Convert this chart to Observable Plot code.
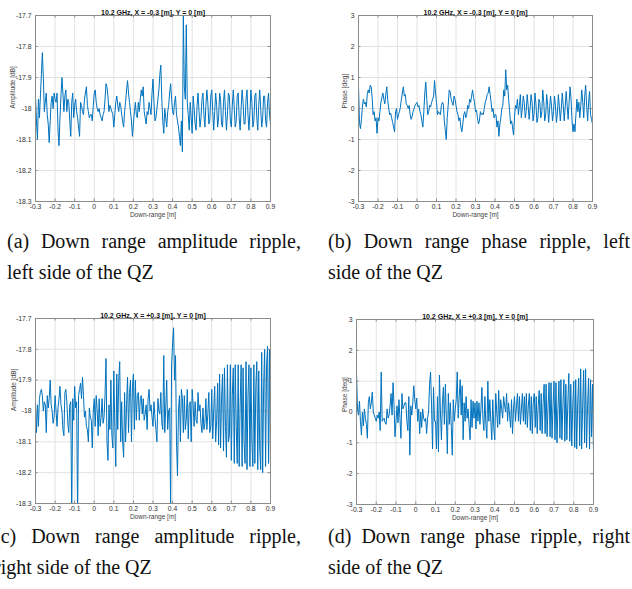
<!DOCTYPE html>
<html>
<head>
<meta charset="utf-8">
<script src="https://cdn.jsdelivr.net/npm/d3@7"></script>
<script src="https://cdn.jsdelivr.net/npm/@observablehq/plot@0.6"></script>
<style>
  html, body { margin: 0; padding: 0; background: #fff; }
  #page { position: relative; width: 632px; height: 589px; overflow: hidden; background: #fff; }
  .panel { position: absolute; }
  .panel svg { overflow: visible; }
  .cap { position: absolute; font-family: "Liberation Serif", "Times New Roman", serif; font-size: 20px;
         line-height: 31.5px; text-align: justify; color: #111; }
</style>
</head>
<body>
<div id="page">
  <div class="panel" id="pa" style="left:0px;top:0px"></div>
  <div class="panel" id="pb" style="left:316px;top:0px"></div>
  <div class="panel" id="pc" style="left:0px;top:300px"></div>
  <div class="panel" id="pd" style="left:316px;top:300px"></div>
  <div class="cap" style="left:7px;top:225.5px;width:294px">(a) Down range amplitude ripple, left side of the QZ</div>
  <div class="cap" style="left:328px;top:225.5px;width:302px">(b) Down range phase ripple, left side of the QZ</div>
  <div class="cap" style="left:-6px;top:520.5px;width:307px">(c) Down range amplitude ripple, right side of the QZ</div>
  <div class="cap" style="left:328px;top:520.5px;width:302px">(d) Down range phase ripple, right side of the QZ</div>
</div>
<script>
// ---- tick values and labels ----
const xTicks = [-0.3, -0.2, -0.1, 0, 0.1, 0.2, 0.3, 0.4, 0.5, 0.6, 0.7, 0.8, 0.9];
const xTickLabels = ["-0.3", "-0.2", "-0.1", "0", "0.1", "0.2", "0.3", "0.4", "0.5", "0.6", "0.7", "0.8", "0.9"];
const ampTicks = [-18.3, -18.2, -18.1, -18, -17.9, -17.8, -17.7];
const ampTickLabels = ["-18.3", "-18.2", "-18.1", "-18", "-17.9", "-17.8", "-17.7"];
const phaseTicks = [-3, -2, -1, 0, 1, 2, 3];
const phaseTickLabels = ["-3", "-2", "-1", "0", "1", "2", "3"];

// ---- texts ----
const titleLeft = "10.2 GHz, X = -0.3 [m], Y = 0 [m]";
const titleRight = "10.2 GHz, X = +0.3 [m], Y = 0 [m]";
const xLabel = "Down-range [m]";
const ampLabel = "Amplitude [dB]";
const phaseLabel = "Phase [deg]";

// ---- sampling positions along down-range (m), 5 mm step from -0.3 to 0.9 ----
const downRange = d3.range(241).map(i => Math.round((-0.3 + i * 0.005) * 1000) / 1000);

// ---- (a) amplitude, left side of QZ (dB) ----
const ampLeft = [
  -17.96,-18.04,-18.10,-17.97,-18.03,-17.96,-17.89,-17.82,-17.90,-18.01,
  -17.98,-17.95,-18.02,-18.05,-18.11,-18.04,-17.98,-17.96,-18.00,-17.95,
  -17.97,-17.98,-17.95,-18.07,-18.12,-18.03,-17.96,-17.90,-17.95,-18.01,
  -17.96,-17.94,-18.01,-17.97,-17.98,-18.04,-18.09,-17.98,-17.95,-18.03,
  -17.99,-17.97,-18.01,-18.03,-18.06,-18.09,-17.98,-17.99,-18.01,-18.02,
  -17.97,-17.95,-17.93,-17.99,-18.01,-18.03,-18.02,-18.02,-18.04,-17.99,
  -17.95,-17.94,-17.98,-18.00,-18.01,-18.00,-18.02,-18.03,-18.04,-18.02,
  -18.01,-17.97,-17.92,-17.93,-17.96,-18.01,-17.99,-18.00,-18.01,-18.02,
  -18.06,-18.02,-17.98,-17.96,-17.99,-18.01,-17.98,-17.99,-18.02,-18.04,
  -18.06,-18.01,-17.98,-17.94,-17.91,-17.95,-17.98,-18.01,-18.04,-18.09,
  -18.05,-18.01,-17.98,-18.02,-18.03,-17.98,-18.01,-17.97,-17.94,-17.96,
  -17.93,-18.01,-18.03,-18.05,-18.01,-18.02,-17.98,-18.00,-18.02,-17.95,
  -17.905,-17.98,-18.04,-18.03,-18.00,-17.97,-17.94,-17.89,-17.86,-17.97,
  -18.04,-18.08,-18.00,-18.03,-18.06,-18.01,-17.99,-17.95,-17.92,-17.97,
  -18.01,-18.02,-17.98,-17.96,-18.02,-18.04,-18.06,-18.09,-18.12,-18.04,
  -18.14,-17.70,-17.93,-17.97,-17.73,-17.98,-18.02,-18.07,-17.98,-18.03,
  -18.08,-17.96,-18.00,-18.05,-18.07,-17.99,-17.95,-18.01,-18.06,-18.03,
  -17.97,-17.95,-18.02,-18.06,-17.99,-17.94,-17.98,-18.05,-18.04,-17.96,
  -17.94,-18.01,-18.07,-18.01,-17.95,-17.99,-18.06,-18.03,-17.95,-17.97,
  -18.05,-18.06,-17.98,-17.94,-18.01,-18.07,-18.02,-17.95,-17.96,-18.04,
  -18.06,-17.99,-17.94,-18.00,-18.06,-18.04,-17.96,-17.95,-18.03,-18.07,
  -18.00,-17.94,-17.98,-18.05,-18.05,-17.97,-17.94,-18.02,-18.07,-18.01,
  -17.94,-17.98,-18.06,-18.04,-17.96,-17.95,-18.03,-18.07,-17.99,-17.94,
  -18.00,-18.06,-18.03,-17.96,-17.96,-18.04,-18.06,-17.98,-17.95,-18.02,
  -18.05
];

// ---- (b) phase, left side of QZ (deg) ----
const phaseLeft = [
  0.75,-0.45,-0.65,-0.35,0.05,0.3,0.15,0.2,0.05,0.45,
  0.6,0.5,0.75,0.7,0.35,-0.2,-0.1,-0.4,-0.3,-0.8,
  -0.3,-0.4,-0.1,0.2,0.35,0.5,0.3,0.15,0.45,0.7,
  0.25,0.0,-0.2,-0.15,-0.3,-0.45,-0.6,-0.75,-0.1,0.0,
  -0.35,-0.2,-0.1,0.05,0.3,0.5,0.7,0.4,0.45,0.15,
  0.1,0.0,0.1,-0.2,-0.35,-0.25,-0.1,0.0,0.1,0.15,
  0.2,0.05,0.1,-0.1,-0.2,-0.4,-0.6,-0.1,0.5,0.85,
  0.3,-0.2,-0.1,0.1,0.05,0.2,0.3,0.4,0.9,0.5,
  0.2,-0.2,-0.1,-0.15,-0.2,0.1,0.2,0.15,-0.4,-0.7,
  -1.0,-0.3,0.1,0.6,0.55,0.3,0.2,0.1,0.4,0.3,
  0.1,-0.1,-0.2,-0.4,-0.3,-0.6,-0.75,-0.5,-0.2,-0.1,
  -0.3,-0.2,0.1,0.0,0.3,0.2,0.4,0.6,0.35,0.2,
  -0.1,-0.05,-0.3,-0.5,-0.4,-0.1,-0.2,-0.15,-0.2,0.0,
  0.2,0.3,0.45,0.5,0.7,0.45,0.2,-0.1,0.0,-0.3,
  -0.2,-0.2,-0.6,-0.4,-0.9,-0.5,-0.3,0.0,0.1,0.6,
  0.4,1.25,0.6,0.75,0.3,-0.1,-0.5,-0.4,-0.6,-0.85,
  -0.3,0.1,0.0,0.3,-0.2,0.1,0.45,-0.3,0.0,0.4,
  0.2,-0.3,-0.1,0.45,0.1,-0.35,0.0,0.45,0.2,-0.4,
  -0.2,0.5,0.15,-0.45,-0.3,0.3,0.2,-0.3,-0.1,0.6,
  0.2,-0.4,-0.2,0.45,0.1,-0.45,0.0,0.4,0.05,-0.4,
  -0.1,0.4,0.1,-0.45,-0.15,0.45,0.05,-0.4,0.0,0.5,
  0.1,-0.4,0.05,0.55,0.1,-0.35,0.2,0.7,0.3,-0.4,
  -0.75,-0.5,-0.75,-0.2,0.3,-0.1,0.2,-0.3,0.1,0.6,
  0.2,-0.3,0.4,0.75,0.1,-0.4,0.2,0.55,-0.2,-0.35,
  -0.5
];

// ---- (c) amplitude, right side of QZ (dB) ----
const ampRight = [
  -17.97,-18.07,-17.98,-18.05,-17.96,-17.94,-17.93,-17.95,-18.00,-17.97,
  -17.98,-18.07,-17.95,-17.99,-17.96,-17.90,-17.98,-18.00,-18.04,-18.02,
  -17.95,-18.00,-18.05,-17.99,-17.96,-17.92,-17.98,-18.00,-18.06,-18.08,
  -17.94,-17.93,-17.97,-18.04,-18.07,-17.98,-17.97,-18.35,-17.96,-18.03,
  -17.92,-17.99,-17.97,-18.35,-17.95,-17.93,-17.91,-17.96,-17.89,-17.95,
  -18.02,-18.00,-18.05,-18.06,-18.10,-17.99,-18.02,-18.03,-18.12,-18.00,
  -17.96,-18.05,-17.95,-18.00,-18.08,-17.96,-18.05,-18.02,-17.96,-18.04,
  -18.02,-17.95,-17.83,-18.10,-18.16,-17.98,-18.06,-17.90,-18.08,-18.12,
  -17.87,-18.05,-18.18,-17.88,-18.06,-17.90,-17.84,-18.10,-17.97,-18.10,
  -18.15,-17.94,-18.10,-17.98,-17.89,-18.07,-17.94,-17.90,-18.10,-17.92,
  -17.88,-18.06,-17.90,-18.03,-17.95,-17.94,-18.03,-17.96,-17.95,-18.01,
  -17.96,-18.03,-18.01,-17.98,-18.06,-17.96,-17.93,-18.00,-17.98,-18.02,
  -18.05,-17.97,-18.02,-18.06,-18.10,-17.96,-18.00,-18.01,-17.94,-18.04,
  -18.06,-17.82,-18.07,-17.99,-17.90,-18.06,-18.00,-17.99,-18.31,-17.85,
  -17.78,-17.73,-17.90,-17.82,-18.10,-18.21,-18.00,-17.95,-18.10,-17.93,
  -17.96,-18.07,-17.95,-18.06,-18.03,-17.93,-18.09,-17.98,-17.97,-18.10,
  -17.93,-17.98,-18.05,-17.97,-18.03,-18.04,-17.94,-18.00,-17.98,-18.04,
  -18.07,-17.99,-18.06,-18.04,-17.96,-18.06,-18.01,-17.94,-18.07,-18.05,
  -17.93,-18.09,-18.00,-17.92,-18.10,-18.03,-17.91,-18.11,-17.88,-18.12,
  -17.96,-17.88,-18.13,-17.86,-18.05,-18.15,-17.85,-18.10,-18.08,-17.85,
  -18.16,-17.95,-17.86,-18.17,-17.85,-18.05,-18.17,-17.85,-18.18,-17.98,
  -17.85,-18.18,-17.86,-18.10,-18.17,-17.84,-18.19,-17.95,-17.85,-18.18,
  -17.86,-18.10,-18.18,-17.85,-18.17,-17.92,-17.84,-18.19,-17.87,-18.12,
  -18.19,-17.81,-18.20,-17.92,-17.80,-18.18,-17.85,-17.79,-18.17,-17.80,
  -18.18
];

// ---- (d) phase, right side of QZ (deg) ----
const phaseRight = [
  1.3,0.1,-0.1,0.35,-0.3,-0.75,0.0,-0.45,0.1,-0.2,
  -0.4,-0.85,0.3,0.5,0.1,0.3,0.65,0.0,-0.1,-0.2,
  -0.3,-0.1,-0.2,0.0,-0.6,1.3,-0.3,-0.25,-0.2,-0.35,
  -0.4,0.1,-0.2,-0.1,0.2,0.6,-0.1,0.95,0.2,-0.8,
  -0.3,0.2,-0.35,0.4,-0.2,-0.85,0.6,0.1,0.2,0.3,
  0.3,-0.3,-0.6,0.5,-1.4,0.2,-0.1,0.3,0.85,0.4,
  0.1,0.45,-0.3,0.1,-0.7,0.0,-0.5,0.1,-0.2,-0.3,
  -0.2,-0.7,-0.2,0.0,0.9,1.3,0.2,-1.2,0.8,-0.3,
  -0.3,-1.2,0.5,-1.3,1.2,0.0,-0.9,0.3,0.8,-0.4,
  0.9,-0.2,-1.35,0.6,-0.4,0.3,-0.5,-1.4,0.4,-0.3,
  0.1,0.4,1.3,-0.2,0.5,1.05,-0.1,0.85,-0.9,0.3,
  -0.3,0.5,-0.2,0.1,-0.4,-0.9,0.4,-0.5,0.35,-0.2,
  0.3,-0.55,0.35,-0.3,0.3,-0.4,0.1,0.8,-0.2,-0.6,
  0.5,-0.4,-0.85,1.0,-0.3,0.4,-0.3,-0.9,0.4,-0.5,
  -0.9,0.6,0.0,-0.5,0.7,-0.4,0.4,0.1,-0.2,0.5,
  0.2,0.0,0.6,-0.3,0.3,-0.1,-0.5,0.4,-0.7,0.1,
  0.5,-0.3,0.2,0.6,-0.3,0.5,-0.4,0.1,0.6,-0.3,
  0.5,-0.4,0.6,-0.5,0.2,0.6,-0.6,0.5,-0.7,0.3,
  0.6,-0.5,0.5,-0.7,0.2,0.7,-0.6,0.6,-0.7,0.3,
  0.9,-0.7,0.9,-0.8,0.2,0.95,-0.8,0.95,-0.85,0.2,
  1.0,-0.9,0.95,-1.0,0.1,1.0,-0.85,1.05,-0.9,0.2,
  1.05,-0.95,0.9,-0.9,0.3,1.25,-0.95,0.9,-1.1,0.2,
  1.0,-1.15,1.05,-1.2,0.3,1.1,-1.1,1.4,-1.2,0.2,
  1.35,-1.0,1.4,-1.15,0.2,1.1,-1.2,1.05,-0.8,0.9,
  -1.3
];

function panel(o) {
  const data = downRange.map((x, i) => ({x, y: o.values[i]}));
  const innerW = o.width - o.ml - o.mr;
  const innerH = o.height - o.mt - o.mb;
  const axisColor = "#8c8c8c";
  const xfmt = d => xTickLabels[xTicks.indexOf(d)];
  const yfmt = d => o.yTickLabels[o.yTicks.indexOf(d)];
  return Plot.plot({
    width: o.width,
    height: o.height,
    marginLeft: o.ml, marginRight: o.mr, marginTop: o.mt, marginBottom: o.mb,
    style: {fontFamily: "'Liberation Sans', Arial, sans-serif", fontSize: "6.8px", color: "#303030", background: "transparent"},
    x: {domain: [-0.3, 0.9], label: null},
    y: {domain: o.yDomain, label: null},
    marks: [
      Plot.gridX(xTicks, {stroke: "#e2e2e2", strokeOpacity: 1}),
      Plot.gridY(o.yTicks, {stroke: "#e2e2e2", strokeOpacity: 1}),
      Plot.line(data, {x: "x", y: "y", stroke: "#0072BD", strokeWidth: 1, clip: true}),
      Plot.frame({stroke: axisColor}),
      Plot.tickX(xTicks, {x: d => d, insetTop: innerH - 2.5, stroke: axisColor}),
      Plot.tickX(xTicks, {x: d => d, insetBottom: innerH - 2.5, stroke: axisColor}),
      Plot.tickY(o.yTicks, {y: d => d, insetRight: innerW - 2.5, stroke: axisColor}),
      Plot.tickY(o.yTicks, {y: d => d, insetLeft: innerW - 2.5, stroke: axisColor}),
      Plot.axisX(xTicks, {tickSize: 0, tickPadding: 3, label: null, tickFormat: xfmt}),
      Plot.axisY(o.yTicks, {tickSize: 0, tickPadding: 4, label: null, tickFormat: yfmt}),
      Plot.text([o.title], {text: d => d, frameAnchor: "top", dy: -5.5, fontWeight: "bold", fontSize: 7, fill: "#111"}),
      Plot.text([xLabel], {text: d => d, frameAnchor: "bottom", dy: 15.5, fontSize: 6.5, fill: "#404040"}),
      Plot.text([o.ylabel], {text: d => d, frameAnchor: "left", dx: o.ylDx, rotate: -90, fontSize: 6.5, fill: "#404040"})
    ]
  });
}

document.getElementById("pa").append(panel({
  values: ampLeft, yDomain: [-18.3, -17.7], yTicks: ampTicks, yTickLabels: ampTickLabels,
  title: titleLeft, ylabel: ampLabel, width: 300, height: 225, ml: 35, mr: 30, mt: 15, mb: 24, ylDx: -23
}));
document.getElementById("pb").append(panel({
  values: phaseLeft, yDomain: [-3, 3], yTicks: phaseTicks, yTickLabels: phaseTickLabels,
  title: titleLeft, ylabel: phaseLabel, width: 300, height: 225, ml: 42, mr: 24, mt: 15, mb: 24, ylDx: -14
}));
document.getElementById("pc").append(panel({
  values: ampRight, yDomain: [-18.3, -17.7], yTicks: ampTicks, yTickLabels: ampTickLabels,
  title: titleRight, ylabel: ampLabel, width: 300, height: 228, ml: 35, mr: 30, mt: 18, mb: 25, ylDx: -22
}));
document.getElementById("pd").append(panel({
  values: phaseRight, yDomain: [-3, 3], yTicks: phaseTicks, yTickLabels: phaseTickLabels,
  title: titleRight, ylabel: phaseLabel, width: 300, height: 228, ml: 40, mr: 23, mt: 19, mb: 24, ylDx: -12
}));
</script>
</body>
</html>
